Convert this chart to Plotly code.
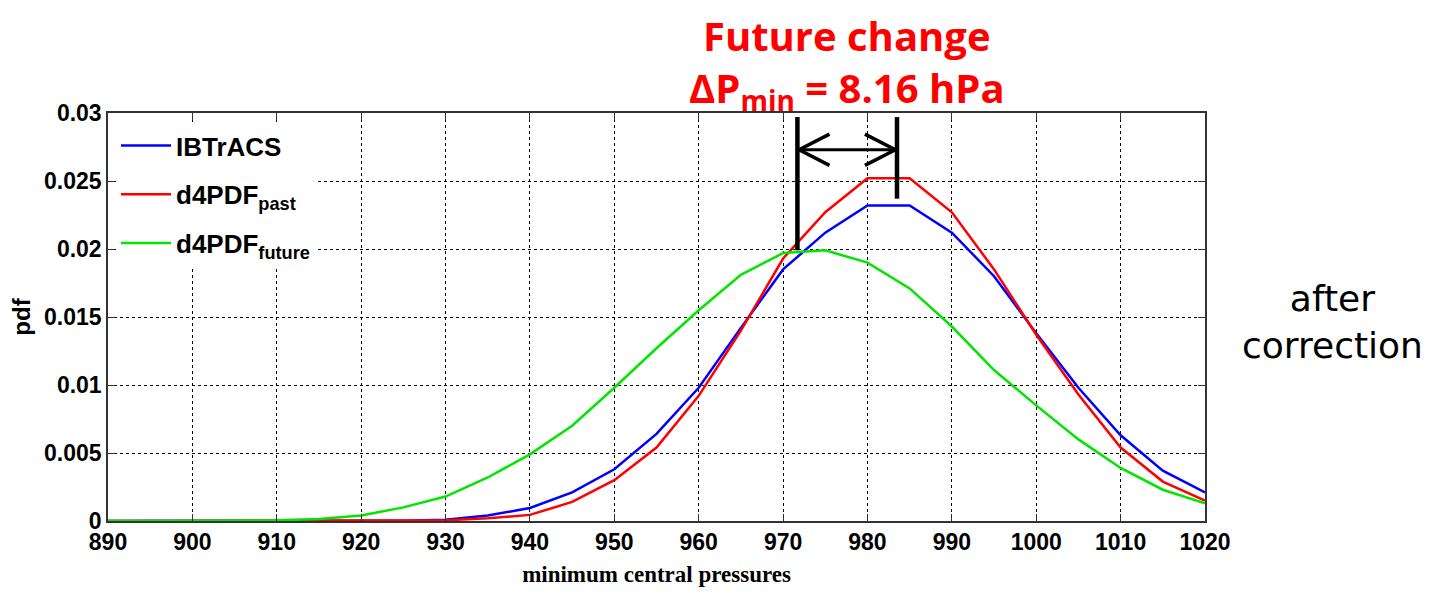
import plotly.graph_objects as go

pressure = [890, 895, 900, 905, 910, 915, 920, 925, 930, 935, 940, 945, 950, 955,
            960, 965, 970, 975, 980, 985, 990, 995, 1000, 1005, 1010, 1015, 1020]

ibtracs = [0, 0, 0, 0, 0, 0, 0, 0.00002, 0.0001, 0.0004, 0.00096, 0.0021, 0.0038, 0.0064,
           0.0098, 0.0142, 0.0185, 0.0212, 0.0232, 0.0232, 0.0212, 0.0180, 0.0138, 0.0098,
           0.0063, 0.0037, 0.0021]
d4pdf_past = [0, 0, 0, 0, 0, 0, 0, 0.00001, 0.00005, 0.0002, 0.00045, 0.0014, 0.0030, 0.0054,
              0.0092, 0.0140, 0.0193, 0.0227, 0.0252, 0.0252, 0.0227, 0.0185, 0.0137, 0.0093,
              0.0054, 0.0029, 0.0015]
d4pdf_future = [0, 0, 0, 0, 0.00005, 0.00015, 0.0004, 0.0010, 0.0018, 0.0032, 0.0049, 0.0070,
                0.0098, 0.0127, 0.0155, 0.0181, 0.0197, 0.0199, 0.0190, 0.0171, 0.0143, 0.0111,
                0.0085, 0.0060, 0.0039, 0.0023, 0.0013]

x_ticks = [890, 900, 910, 920, 930, 940, 950, 960, 970, 980, 990, 1000, 1010, 1020]
y_ticks = [0, 0.005, 0.01, 0.015, 0.02, 0.025, 0.03]
y_ticklabels = ["0", "0.005", "0.01", "0.015", "0.02", "0.025", "0.03"]

# annotation marker positions (data coordinates)
left_bar_x, right_bar_x = 971.7, 983.5
bar_top = 0.0297
left_bar_bottom, right_bar_bottom = 0.0199, 0.0237
arrow_y = 0.0273
head_len, head_half = 3.6, 0.00115

# page layout: browser body has an 8px margin, compensate
OFF = 8
W, H = 1438 - 2 * OFF, 595 - 2 * OFF
PL, PR, PT, PB = 108, 1205, 113, 521  # desired plot area in page pixels
ML, MT = PL - OFF, PT - OFF
MR = W - ML - (PR - PL)
MB = H - MT - (PB - PT)


def px(xp):
    return (xp - PL) / (PR - PL)


def py(yp):
    return (PB - yp) / (PB - PT)


tick_font = dict(family="Liberation Sans Narrow, Arial Narrow, Liberation Sans, Arial", size=23,
                 color="black", weight="bold")
legend_font = dict(family="Liberation Sans Narrow, Arial Narrow, Liberation Sans, Arial",
                   size=26, color="black", weight="bold")
grid_dash = "3px,3px"

fig = go.Figure()
fig.add_trace(go.Scatter(x=pressure, y=ibtracs, mode="lines", name="IBTrACS", legendgroup="a",
                         line=dict(color="#0000ff", width=2.5)))
fig.add_trace(go.Scatter(x=pressure, y=d4pdf_past, mode="lines", name="d4PDF<sub>past</sub>",
                         legendgroup="b", line=dict(color="#ff0000", width=2.5)))
fig.add_trace(go.Scatter(x=pressure, y=d4pdf_future, mode="lines", name="d4PDF<sub>future</sub>",
                         legendgroup="c", line=dict(color="#00e600", width=2.5)))

shapes = [
    dict(type="line", xref="x", yref="y", x0=left_bar_x, x1=left_bar_x, y0=left_bar_bottom, y1=bar_top,
         line=dict(color="black", width=4.5)),
    dict(type="line", xref="x", yref="y", x0=right_bar_x, x1=right_bar_x, y0=right_bar_bottom, y1=bar_top,
         line=dict(color="black", width=4.5)),
    dict(type="line", xref="x", yref="y", x0=left_bar_x + 0.2, x1=right_bar_x - 0.2, y0=arrow_y, y1=arrow_y,
         line=dict(color="black", width=3)),
    dict(type="path", xref="x", yref="y",
         path=f"M {left_bar_x + 0.2 + head_len},{arrow_y + head_half} L {left_bar_x + 0.2},{arrow_y} "
              f"L {left_bar_x + 0.2 + head_len},{arrow_y - head_half}",
         line=dict(color="black", width=3.5)),
    dict(type="path", xref="x", yref="y",
         path=f"M {right_bar_x - 0.2 - head_len},{arrow_y + head_half} L {right_bar_x - 0.2},{arrow_y} "
              f"L {right_bar_x - 0.2 - head_len},{arrow_y - head_half}",
         line=dict(color="black", width=3.5)),
]

title_font = dict(family="Open Sans, Lato, sans-serif", size=40, color="#ff0000", weight="bold")
side_font = dict(family="DejaVu Sans, sans-serif", size=36, color="black")
annotations = [
    dict(text="Future change<br>ΔP<sub>min</sub> = 8.16 hPa", xref="paper", yref="paper",
         x=px(847), y=py(63), showarrow=False, xanchor="center", yanchor="middle",
         align="center", font=title_font),
    dict(text="after<br>correction", xref="paper", yref="paper", x=px(1332),
         y=py(322), showarrow=False, xanchor="center", yanchor="middle", align="center",
         font=side_font),
]

fig.update_layout(
    width=W, height=H,
    margin=dict(l=ML, r=MR, t=MT, b=MB, autoexpand=False),
    paper_bgcolor="white", plot_bgcolor="white",
    showlegend=True,
    legend=dict(x=px(116), y=py(122), xanchor="left", yanchor="top", bgcolor="white",
                borderwidth=0, font=legend_font, traceorder="grouped",
                tracegroupgap=12, itemwidth=50),
    shapes=shapes,
    annotations=annotations,
    xaxis=dict(range=[890, 1020], tickvals=x_ticks, ticktext=[str(v) for v in x_ticks],
               showgrid=True, gridcolor="black", griddash=grid_dash, gridwidth=1,
               showline=True, linecolor="#333333", linewidth=1.5, mirror="ticks",
               ticks="inside", ticklen=7, tickcolor="#333333", tickfont=tick_font,
               zeroline=False,
               title=dict(text="minimum central pressures", standoff=14,
                          font=dict(family="Liberation Serif, Times New Roman, serif", size=23,
                                    color="black", weight="bold"))),
    yaxis=dict(range=[0, 0.03], tickvals=y_ticks, ticktext=y_ticklabels,
               showgrid=True, gridcolor="black", griddash=grid_dash, gridwidth=1,
               showline=True, linecolor="#333333", linewidth=1.5, mirror="ticks",
               ticks="inside", ticklen=7, tickcolor="#333333", tickfont=tick_font,
               zeroline=False,
               title=dict(text="pdf", standoff=10,
                          font=dict(family="Liberation Sans, Arial, sans-serif", size=24,
                                    color="black", weight="bold"))),
)

fig.write_html("out.html")
